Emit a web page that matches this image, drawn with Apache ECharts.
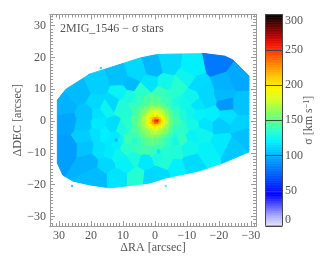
<!DOCTYPE html>
<html><head><meta charset="utf-8">
<style>html,body{margin:0;padding:0;background:#fff}#c{width:332px;height:266px}</style>
<script src="https://cdn.jsdelivr.net/npm/echarts@6/dist/echarts.min.js"></script>
</head><body><div id="c"></div>
<script>
// Voronoi bins: centre RA, centre DEC (arcsec) and sigma (km/s)
const binRA = [-19.3,-26,-21.4,-26.6,-21.4,-22.1,-22.4,-11.5,-4.2,0.5,-13,-15.1,-16.1,-13.5,-9.9,-7.3,-3.1,-11.5,-17.7,-8.9,-5.2,-1.6,-13.5,-11,-8.5,8,
  28.1,23.4,17.7,11,5.7,7.3,1.6,18.2,15.1,18.2,10.9,13,7.8,10.4,4.2,27.5,27.2,21.4,
  21.9,21.9,21.4,20.3,18.2,15.1,11.5,17.2,14,18.2,15.6,17.7,12.1,13,10.9,13.3,12.1,12.1,5.7,11.5,9.4,6.3,2.6,1,8.8,10.4,8.3,7.8,5.2,2.1,
  -26.7,-27.6,-24,-20.3,-15.6,-20.8,-16.1,-11.5,-6.3,-1.6,-1.1,-2.6,0.2,-1.1,-1.1,-11.5,-14.6,-6.8,-10.4,-3.1,-7.8,-8.9,-11.5];
const binDEC = [18.1,13.4,11.3,5,8.2,5,1.6,16.5,17.6,16.5,11.3,9.2,6.4,5,13.4,10.8,11.8,7.6,1.9,5,7.8,8.7,1.9,2.5,2,2.5,
  4.5,8.7,11.3,13.4,15,11.3,11.8,5.5,4,1.9,8.7,5.5,7.6,4.5,9.2,-0.3,-8.5,1.9,
  -1.3,-4.9,-8.6,-12.8,-17.5,-13.3,-17.5,-9.1,-9.7,-3.9,-3.9,-0.7,-6,-1.8,-6,-6,-4.7,-7.2,-17.5,-10.7,-13.3,-11.2,-12.3,-18,-8.1,-2.8,-6,-1.3,-8.6,-8.6,
  -1.5,-4.4,-8.6,-1.3,-1.3,-7,-9.7,-12.8,-14.4,-16.5,-9.5,-9.5,-9.5,-8.1,-11.2,-4.4,-3.9,-9.1,-8.6,-12.8,-5.5,-2.3,-1.3];
const binSigma = [82,97,100,105,102,92,115,120,112,101,113,112,112,116,125,134,127,125,120,127,135,140,122,125,131,133,
  100,103,109,104,112,103,116,112,124,115,123,112,130,132,135,96,94,105,
  106,108,105,100,103,112,116,115,118,115,120,118,100,114,125,118,118,120,133,124,122,130,118,112,135,130,140,135,140,142,
  110,104,107,108,116,118,122,113,120,113,118,133,138,142,130,123,125,132,126,132,138,135,128];

// Small bins around the nucleus, 1 arcsec apart (null: covered by the finer block below)
const coreRA = [5.8,4.8,3.8,2.8,1.8,0.8,-0.2,-1.2,-2.2,-3.2,-4.2,-5.2,-6.2];
const coreDEC = [6,5,4,3,2,1,0,-1,-2,-3,-4,-5,-6];
const coreSigma = [
  [134,140,138,146,141,149,146,150,143,139,142,134,130],
  [138,137,147,143,151,155,150,153,149,146,138,137,131],
  [140,148,145,155,160,166,162,164,155,150,147,139,135],
  [144,146,156,null,null,null,null,null,null,null,148,146,136],
  [141,152,158,null,null,null,null,null,null,null,155,147,140],
  [147,150,166,null,null,null,null,null,null,null,161,151,141],
  [146,155,168,null,null,null,null,null,null,null,165,150,143],
  [149,158,164,null,null,null,null,null,null,null,160,152,141],
  [143,153,163,null,null,null,null,null,null,null,158,148,139],
  [146,150,158,null,null,null,null,null,null,null,154,144,138],
  [139,149,152,160,166,170,172,168,160,156,146,142,134],
  [141,143,150,153,158,160,158,157,151,147,143,136,132],
  [133,139,142,147,149,152,149,148,145,140,136,133,128]
];
// Single-spaxel bins at the nucleus, 0.7 arcsec apart
const nucRA = [3.3,2.6,1.9,1.2,0.5,-0.2,-0.9,-1.6,-2.3,-3,-3.7];
const nucDEC = [3.5,2.8,2.1,1.4,0.7,0,-0.7,-1.4,-2.1,-2.8,-3.5];
const nucSigma = [
  [158,163,162,173,170,181,176,172,169,157,159],
  [162,158,172,176,184,179,186,174,177,165,158],
  [161,174,175,188,183,193,188,190,174,172,160],
  [170,171,186,190,204,198,207,192,191,175,168],
  [168,180,184,206,214,228,222,211,193,184,169],
  [175,176,194,201,232,248,258,226,205,187,172],
  [166,182,188,209,220,240,236,216,199,180,174],
  [172,174,192,194,208,212,204,202,188,179,164],
  [163,177,176,191,189,199,192,186,181,170,166],
  [164,160,175,174,183,180,184,172,174,162,161],
  [156,165,160,170,168,176,170,168,163,160,155]
];

// Edge of the observed field (arcsec)
const edgeRA = [30.5,30.5,28.8,25.6,20.3,14,8.8,1.6,-3.4,-13.8,-21.2,-29.4,-29.4,-24.4,-21.9,-15.6,-3.4,0,4.7,13.4,20.3,27.8];
const edgeDEC = [6.6,-13.2,-17,-18.9,-20.1,-21,-20.4,-19.5,-17.9,-15.7,-13.2,-9.7,14.2,19.2,20.4,21.2,21,20.8,19.8,17,14.8,10];

// Isolated spaxels just outside the field edge
const strayRA = [16.9,-3.4,25.9,20.6];
const strayDEC = [16.7,-20.4,-20.4,14.5];
const straySigma = [105,125,100,105];

const xTicks = [30,20,10,0,-10,-20,-30];
const yTicks = [30,20,10,0,-10,-20,-30];
const palette = ['#e6e6ff','#a8a8ff','#5050ff','#0000ff','#0032ff','#0064ff','#0091ff','#00c3ff','#00f0ff','#28ffcd','#5fff87','#96ff55','#d7ff1e','#fff500','#ffcd00','#ff9600','#ff5a00','#ff1900','#b40000','#5a0000','#000000'];

const FONT = 'Liberation Serif', INK = '#555', EDGE = '#999';
const items = binRA.map((r,i)=>[r,binDEC[i],binSigma[i]]);
coreDEC.forEach((d,j)=>coreRA.forEach((r,i)=>{ if(coreSigma[j][i]!==null) items.push([r,d,coreSigma[j][i]]); }));
nucDEC.forEach((d,j)=>nucRA.forEach((r,i)=>items.push([r,d,nucSigma[j][i]])));
function clip(poly,ax,ay,b){
  const out=[];
  for(let i=0;i<poly.length;i++){
    const p=poly[i],q=poly[(i+1)%poly.length];
    const dp=ax*p[0]+ay*p[1]-b,dq=ax*q[0]+ay*q[1]-b;
    if(dp<=0)out.push(p);
    if(dp*dq<0){const t=dp/(dp-dq);out.push([p[0]+t*(q[0]-p[0]),p[1]+t*(q[1]-p[1])]);}
  }
  return out;
}
const edge = edgeRA.map((r,i)=>[r,edgeDEC[i]]);
const cells = items.map((s,i)=>{
  let poly=edge;
  items.forEach((o,k)=>{
    if(k===i||!poly.length)return;
    poly=clip(poly,o[0]-s[0],o[1]-s[1],(o[0]*o[0]+o[1]*o[1]-s[0]*s[0]-s[1]*s[1])/2);
  });
  return poly;
});
const X0=-31.6,X1=32.8,Y0=-33,Y1=33.5;
function ints(a,b){const r=[];for(let v=Math.ceil(a);v<=b;v++)r.push(v);return r;}
const minus=v=>v<0?'\u2212'+(-v):String(v);
function side(kind,pos,major,lo,hi,extra){
  const base={type:'value',gridIndex:0,position:pos,min:lo,max:hi,splitLine:{show:false},
    axisLine:{show:true,onZero:false,lineStyle:{color:EDGE,width:1}}};
  if(kind==='x')base.inverse=true;
  return [
    Object.assign({},base,{axisTick:{show:true,inside:true,length:3,customValues:ints(lo,hi),lineStyle:{color:EDGE,width:1}},axisLabel:{show:false}}),
    Object.assign({},base,{axisTick:{show:true,inside:true,length:5,customValues:major,lineStyle:{color:EDGE,width:1}},
      axisLabel:extra?{show:true,customValues:major,formatter:minus,fontFamily:FONT,fontSize:12,color:INK,margin:4}:{show:false}},extra||{})
  ];
}
const xs=[...side('x','bottom',xTicks,X0,X1,{name:'\u0394RA [arcsec]',nameLocation:'middle',nameGap:16,nameMoveOverlap:false,nameTextStyle:{fontFamily:FONT,fontSize:12,color:INK}}),
          ...side('x','top',xTicks,X0,X1,null)];
const ys=[...side('y','left',yTicks,Y0,Y1,{name:'\u0394DEC [arcsec]',nameLocation:'middle',nameGap:26,nameMoveOverlap:false,nameTextStyle:{fontFamily:FONT,fontSize:12,color:INK}}),
          ...side('y','right',yTicks,Y0,Y1,null)];
const BAR=16.5, DARK='#444';
xs.push({type:'value',gridIndex:1,position:'bottom',min:0,max:1,axisLine:{show:true,onZero:false,lineStyle:{color:'#999',width:1.5}},axisTick:{show:false},axisLabel:{show:false},splitLine:{show:false},z:10});
xs.push({type:'value',gridIndex:1,position:'top',min:0,max:1,axisLine:{show:true,onZero:false,lineStyle:{color:DARK}},axisTick:{show:false},axisLabel:{show:false},splitLine:{show:false},z:10});
ys.push({type:'value',gridIndex:1,position:'right',min:0,max:300,interval:50,z:10,
  axisLine:{show:true,onZero:false,lineStyle:{color:DARK}},
  axisTick:{show:true,inside:true,length:BAR,lineStyle:{color:DARK,width:1}},
  axisLabel:{fontFamily:FONT,fontSize:12,color:INK,margin:3,verticalAlignMinLabel:'bottom',verticalAlignMaxLabel:'top'},splitLine:{show:false},
  name:'{t|\u03c3 [km s}{s|\u22121}{t|]}',nameLocation:'middle',nameRotate:90,nameGap:21,nameMoveOverlap:false,
  nameTextStyle:{rich:{t:{fontFamily:FONT,fontSize:12,color:INK},s:{fontFamily:FONT,fontSize:8,color:INK,verticalAlign:'top'}}}});
ys.push({type:'value',gridIndex:1,position:'left',min:0,max:300,z:10,axisLine:{show:true,onZero:false,lineStyle:{color:DARK}},axisTick:{show:false},axisLabel:{show:false},splitLine:{show:false}});
const levels=ints(0,299);
const chart=echarts.init(document.getElementById('c'),null,{renderer:'canvas'});
chart.setOption({
  animation:false,
  backgroundColor:'#fff',
  title:{text:'2MIG_1546 \u2212 \u03c3 stars',left:55,top:18,textStyle:{fontFamily:FONT,fontSize:12,fontWeight:'normal',color:INK}},
  grid:[{left:50,top:14.5,width:206,height:211.5,outerBoundsMode:'none'},{left:265.5,top:14.5,width:BAR,height:211.5,outerBoundsMode:'none'}],
  xAxis:xs,yAxis:ys,
  visualMap:{show:false,type:'continuous',min:0,max:300,dimension:2,seriesIndex:[0,1,2],inRange:{color:palette}},
  series:[
    {type:'custom',xAxisIndex:0,yAxisIndex:0,silent:true,clip:true,encode:{x:0,y:1},data:items,
      renderItem(p,api){
        const poly=cells[p.dataIndex];
        if(!poly||poly.length<3)return null;
        const c=api.visual('color');
        return {type:'polygon',shape:{points:poly.map(v=>api.coord(v))},style:{fill:c,stroke:c,lineWidth:1}};
      }},
    {type:'scatter',xAxisIndex:0,yAxisIndex:0,silent:true,symbol:'rect',symbolSize:2,data:strayRA.map((r,i)=>[r,strayDEC[i],straySigma[i]])},
    {type:'custom',xAxisIndex:4,yAxisIndex:4,silent:true,encode:{y:1},data:levels.map(v=>[0,v,v]),
      renderItem(p,api){
        const v=api.value(1),a=api.coord([0,v]),b=api.coord([1,v+1]);
        return {type:'rect',shape:{x:a[0],y:b[1],width:b[0]-a[0],height:a[1]-b[1]+0.5},style:{fill:api.visual('color')}};
      }}
  ]
});
</script></body></html>
